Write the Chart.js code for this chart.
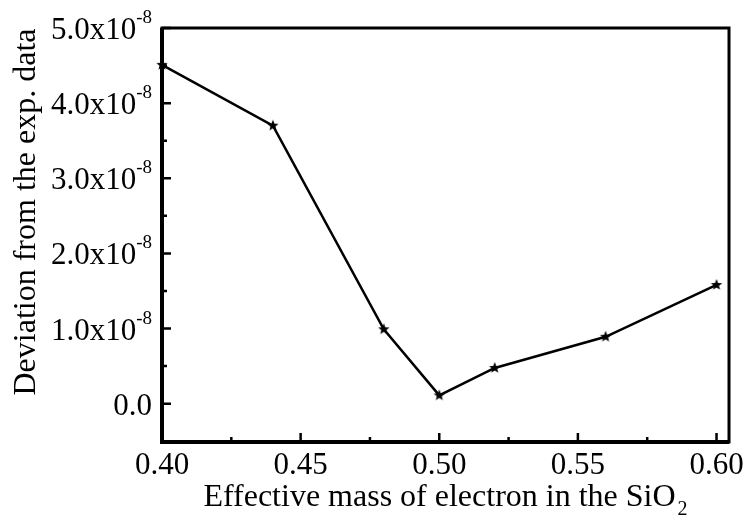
<!DOCTYPE html>
<html>
<head>
<meta charset="utf-8">
<script src="https://cdn.jsdelivr.net/npm/chart.js@4"></script>
<style>
  html, body { margin: 0; padding: 0; background: #fff; }
  #wrap { width: 747px; height: 525px; }
</style>
</head>
<body>
<div id="wrap"><canvas id="c" width="747" height="525"></canvas></div>
<script>
// Electron effective mass in SiO2 vs. deviation from experimental data
const massValues = [0.40, 0.44, 0.48, 0.50, 0.52, 0.56, 0.60];
const deviationValues = [4.51e-8, 3.70e-8, 0.99e-8, 0.11e-8, 0.475e-8, 0.89e-8, 1.58e-8];

const xTickValues = [0.40, 0.45, 0.50, 0.55, 0.60];
const xTickLabels = ['0.40', '0.45', '0.50', '0.55', '0.60'];
const xMinorValues = [0.425, 0.475, 0.525, 0.575];

const yTickValues = [0, 1e-8, 2e-8, 3e-8, 4e-8, 5e-8];
const yTickLabels = ['0.0', '1.0x10', '2.0x10', '3.0x10', '4.0x10', '5.0x10'];
const yTickExponents = ['', '-8', '-8', '-8', '-8', '-8'];
const yMinorValues = [0.5e-8, 1.5e-8, 2.5e-8, 3.5e-8, 4.5e-8];

const xTitle = 'Effective mass of electron in the SiO';
const xTitleSub = '2';
const yTitle = 'Deviation from the exp. data';

const FONT = '"Liberation Serif", "Times New Roman", serif';

// filled five-point star used as the point marker
function makeStar(size, outer, inner) {
  const cv = document.createElement('canvas');
  cv.width = size; cv.height = size;
  const g = cv.getContext('2d');
  const c = size / 2;
  g.beginPath();
  for (let i = 0; i < 10; i++) {
    const r = i % 2 === 0 ? outer : inner;
    const a = -Math.PI / 2 + i * Math.PI / 5;
    const px = c + r * Math.cos(a), py = c + r * Math.sin(a);
    if (i === 0) g.moveTo(px, py); else g.lineTo(px, py);
  }
  g.closePath();
  g.fillStyle = '#000';
  g.fill();
  return cv;
}
const starMarker = makeStar(14, 6, 2.6);

// frame, inward ticks and all axis text
const axesPlugin = {
  id: 'axesFrame',
  afterDraw(chart) {
    const ctx = chart.ctx;
    const a = chart.chartArea;
    const xs = chart.scales.x, ys = chart.scales.y;
    ctx.save();
    ctx.strokeStyle = '#000';
    ctx.fillStyle = '#000';
    ctx.lineCap = 'butt';

    // box
    ctx.lineWidth = 3;
    ctx.strokeRect(a.left, a.top, a.right - a.left, a.bottom - a.top);
    ctx.lineWidth = 4;
    ctx.beginPath();
    ctx.moveTo(a.left, a.top); ctx.lineTo(a.left, a.bottom); ctx.lineTo(a.right, a.bottom);
    ctx.stroke();

    // x ticks
    ctx.lineWidth = 2.5;
    ctx.beginPath();
    xTickValues.forEach(v => { const p = xs.getPixelForValue(v); ctx.moveTo(p, a.bottom); ctx.lineTo(p, a.bottom - 9); });
    xMinorValues.forEach(v => { const p = xs.getPixelForValue(v); ctx.moveTo(p, a.bottom); ctx.lineTo(p, a.bottom - 5); });
    // y ticks
    yTickValues.forEach(v => { const p = ys.getPixelForValue(v); ctx.moveTo(a.left, p); ctx.lineTo(a.left + 9, p); });
    yMinorValues.forEach(v => { const p = ys.getPixelForValue(v); ctx.moveTo(a.left, p); ctx.lineTo(a.left + 5, p); });
    ctx.stroke();

    // x tick labels
    ctx.font = '31px ' + FONT;
    ctx.textAlign = 'center';
    ctx.textBaseline = 'alphabetic';
    xTickValues.forEach((v, i) => {
      ctx.fillText(xTickLabels[i], xs.getPixelForValue(v), a.bottom + 32);
    });

    // y tick labels with exponent
    const rightEdge = a.left - 10;
    yTickValues.forEach((v, i) => {
      const p = ys.getPixelForValue(v);
      ctx.font = '19px ' + FONT;
      const ew = yTickExponents[i] ? ctx.measureText(yTickExponents[i]).width : 0;
      ctx.textAlign = 'right';
      if (ew) ctx.fillText(yTickExponents[i], rightEdge, p - 5);
      ctx.font = '31px ' + FONT;
      ctx.fillText(yTickLabels[i], rightEdge - ew, p + 11);
    });

    // x title with subscript
    ctx.font = '32px ' + FONT;
    const tw = ctx.measureText(xTitle).width;
    ctx.font = '20px ' + FONT;
    const sw = ctx.measureText(xTitleSub).width;
    const cx = (a.left + a.right) / 2;
    const startX = cx - (tw + sw + 2) / 2;
    ctx.textAlign = 'left';
    ctx.font = '32px ' + FONT;
    ctx.fillText(xTitle, startX, 506);
    ctx.font = '20px ' + FONT;
    ctx.fillText(xTitleSub, startX + tw + 2, 515);

    // y title
    ctx.translate(35, 212);
    ctx.rotate(-Math.PI / 2);
    ctx.font = '32px ' + FONT;
    ctx.textAlign = 'center';
    ctx.fillText(yTitle, 0, 0);
    ctx.restore();
  }
};

new Chart(document.getElementById('c'), {
  type: 'line',
  data: {
    datasets: [{
      data: massValues.map((m, i) => ({ x: m, y: deviationValues[i] })),
      borderColor: '#000',
      borderWidth: 2.5,
      pointStyle: starMarker,
      pointRadius: 6,
      tension: 0,
      fill: false,
      clip: false
    }]
  },
  options: {
    responsive: false,
    animation: false,
    events: [],
    layout: { padding: { top: 28, right: 18, left: 0, bottom: 0 } },
    plugins: { legend: { display: false }, tooltip: { enabled: false } },
    scales: {
      x: {
        type: 'linear',
        min: 0.40,
        max: 0.6045,
        ticks: { display: false },
        grid: { display: false },
        border: { display: false },
        afterFit(s) { s.height = 83; }
      },
      y: {
        type: 'linear',
        min: -0.51e-8,
        max: 5.0e-8,
        ticks: { display: false },
        grid: { display: false },
        border: { display: false },
        afterFit(s) { s.width = 162; }
      }
    }
  },
  plugins: [axesPlugin]
});
</script>
</body>
</html>
